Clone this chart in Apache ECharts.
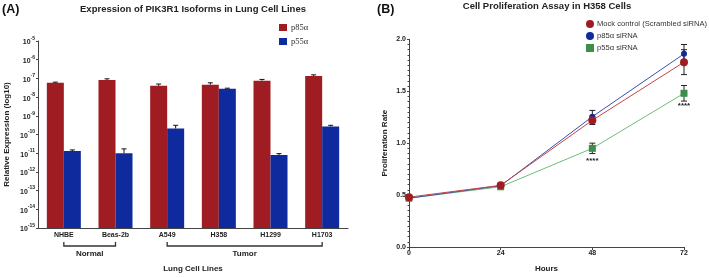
<!DOCTYPE html>
<html><head><meta charset="utf-8">
<script src="https://cdn.jsdelivr.net/npm/echarts@6/dist/echarts.min.js"></script>
<style>html,body{margin:0;padding:0;background:#fff}#c{width:709px;height:278px}</style>
</head><body><div id="c"></div>
<script>
// ---- Panel A data ----
const categories = ['NHBE', 'Beas-2b', 'A549', 'H358', 'H1299', 'H1703'];
const p85 = [5.8e-8, 8.3e-8, 4.0e-8, 4.6e-8, 7.6e-8, 1.35e-7];
const p85Upper = [6.3e-8, 9.5e-8, 5.0e-8, 5.8e-8, 8.8e-8, 1.55e-7];
const p55 = [1.3e-11, 1.0e-11, 2.1e-10, 2.8e-8, 7.9e-12, 2.7e-10];
const p55Upper = [1.5e-11, 1.7e-11, 3.1e-10, 3.0e-8, 9.5e-12, 3.1e-10];
const expMin = -15, expMax = -5;
const groupNames = ['Normal', 'Tumor'];
const groupFrom = [0, 2];
const groupTo = [1, 5];

// ---- Panel B data ----
const hours = [0, 24, 48, 72];
const mock = [0.48, 0.594, 1.22, 1.78];
const mockErr = [0.01, 0.01, 0.04, 0.12];
const p85si = [0.47, 0.59, 1.255, 1.86];
const p85siErr = [0.01, 0.01, 0.06, 0.09];
const p55si = [0.47, 0.58, 0.95, 1.48];
const p55siErr = [0.01, 0.01, 0.05, 0.075];
const sig = ['', '', '****', '****'];

const RED = '#9f1d22', BLUE = '#0f2a9c', GREEN = '#3b8f4a', GREEN_LINE = '#6dbb7a';
const FONT = 'Liberation Sans, Arial, sans-serif';
const lg = v => Math.log10(v) - expMin;

const chart = echarts.init(document.getElementById('c'), null, {renderer: 'canvas'});
const BW = 17;

function errA(offset) {
  return function (params, api) {
    const i = api.value(0);
    const top = api.coord([i, api.value(2)]);
    const base = api.coord([i, api.value(1)]);
    const x = top[0] + offset;
    return {type: 'group', children: [
      {type: 'line', shape: {x1: x, y1: base[1], x2: x, y2: top[1]}, style: {stroke: '#111', lineWidth: 1}},
      {type: 'line', shape: {x1: x - 2.5, y1: top[1], x2: x + 2.5, y2: top[1]}, style: {stroke: '#111', lineWidth: 1}}
    ]};
  };
}
function errB() {
  return function (params, api) {
    const x = api.value(0), y = api.value(1), e = api.value(2);
    const hi = api.coord([x, y + e]), lo = api.coord([x, y - e]);
    return {type: 'group', children: [
      {type: 'line', shape: {x1: hi[0], y1: hi[1], x2: lo[0], y2: lo[1]}, style: {stroke: '#222', lineWidth: 1}},
      {type: 'line', shape: {x1: hi[0] - 3, y1: hi[1], x2: hi[0] + 3, y2: hi[1]}, style: {stroke: '#222', lineWidth: 1}},
      {type: 'line', shape: {x1: lo[0] - 3, y1: lo[1], x2: lo[0] + 3, y2: lo[1]}, style: {stroke: '#222', lineWidth: 1}}
    ]};
  };
}

const option = {
  animation: false,
  textStyle: {fontFamily: FONT},
  title: [
    {text: '(A)', left: 2, top: 3, padding: 0, textStyle: {fontSize: 12.5, fontWeight: 'bold', color: '#111', fontFamily: FONT}},
    {text: 'Expression of PIK3R1 Isoforms in Lung Cell Lines', left: 193, top: 4, padding: 0, textAlign: 'center', textStyle: {fontSize: 9.5, fontWeight: 'bold', color: '#222', fontFamily: FONT}},
    {text: '(B)', left: 377, top: 3, padding: 0, textStyle: {fontSize: 12.5, fontWeight: 'bold', color: '#111', fontFamily: FONT}},
    {text: 'Cell Proliferation Assay in H358 Cells', left: 547, top: 1, padding: 0, textAlign: 'center', textStyle: {fontSize: 9.5, fontWeight: 'bold', color: '#222', fontFamily: FONT}}
  ],
  legend: [
    {data: ['p85α', 'p55α'], left: 279, top: 23, padding: 0, orient: 'vertical', itemWidth: 8, itemHeight: 7, itemGap: 5, icon: 'rect',
     textStyle: {fontSize: 8.5, fontFamily: 'Liberation Serif, serif', color: '#333', padding: [0, 0, 0, -1]}},
    {data: [{name: 'Mock control (Scrambled siRNA)', icon: 'circle'}, {name: 'p85α siRNA', icon: 'circle'}, {name: 'p55α siRNA', icon: 'rect'}],
     left: 586, top: 20, padding: 0, orient: 'vertical',
     itemWidth: 8, itemHeight: 8, itemGap: 4, textStyle: {fontSize: 7.6, color: '#333', padding: [0, 0, 0, -2]}}
  ],
  grid: [
    {left: 38, top: 41, width: 310, height: 189},
    {left: 409, top: 39.3, width: 275, height: 213}
  ],
  xAxis: [
    {gridIndex: 0, type: 'category', data: categories,
     axisLine: {lineStyle: {color: '#444', width: 1}}, axisTick: {show: false},
     axisLabel: {fontSize: 7, fontWeight: 'bold', color: '#222', margin: 4},
     name: 'Lung Cell Lines', nameLocation: 'middle', nameGap: 37,
     nameTextStyle: {fontSize: 8, fontWeight: 'bold', color: '#222'}},
    {gridIndex: 1, type: 'value', min: 0, max: 72, interval: 24,
     axisLine: {lineStyle: {color: '#444', width: 1}}, axisTick: {show: true, length: 3, lineStyle: {color: '#444'}},
     splitLine: {show: false},
     axisLabel: {fontSize: 7, fontWeight: 'bold', color: '#222', margin: 3},
     name: 'Hours', nameLocation: 'middle', nameGap: 18,
     nameTextStyle: {fontSize: 8, fontWeight: 'bold', color: '#222'}}
  ],
  yAxis: [
    {gridIndex: 0, type: 'value', min: 0, max: expMax - expMin, interval: 1,
     axisLine: {show: true, lineStyle: {color: '#444', width: 1}}, axisTick: {show: true, length: 2, lineStyle: {color: '#444'}},
     splitLine: {show: false},
     axisLabel: {margin: 3, color: '#222',
       formatter: v => '{b|10}{s|' + (v + expMin) + '}',
       rich: {b: {fontSize: 7, fontWeight: 'bold', color: '#222', lineHeight: 10, verticalAlign: 'bottom'},
              s: {fontSize: 5, fontWeight: 'bold', color: '#222', lineHeight: 10, verticalAlign: 'top'}}},
     name: 'Relative Expression (log10)', nameLocation: 'middle', nameGap: 27, nameRotate: 90,
     nameTextStyle: {fontSize: 8, fontWeight: 'bold', color: '#222'}},
    {gridIndex: 1, type: 'value', min: 0, max: 2, interval: 0.5,
     axisLine: {show: true, lineStyle: {color: '#444', width: 1}}, axisTick: {show: true, length: 2, lineStyle: {color: '#444'}},
     minorTick: {show: true, splitNumber: 10, length: 1.5, lineStyle: {color: '#444'}},
     splitLine: {show: false},
     axisLabel: {fontSize: 7, fontWeight: 'bold', color: '#222', margin: 3, formatter: v => v.toFixed(1)},
     name: 'Proliferation Rate', nameLocation: 'middle', nameGap: 20, nameRotate: 90,
     nameTextStyle: {fontSize: 8, fontWeight: 'bold', color: '#222'}}
  ],
  series: [
    {name: 'p85α', type: 'bar', xAxisIndex: 0, yAxisIndex: 0, barWidth: BW, barGap: '0%',
     itemStyle: {color: RED}, data: p85.map(lg)},
    {name: 'p55α', type: 'bar', xAxisIndex: 0, yAxisIndex: 0, barWidth: BW, barGap: '0%',
     itemStyle: {color: BLUE}, data: p55.map(lg)},
    {type: 'custom', xAxisIndex: 0, yAxisIndex: 0, renderItem: errA(-BW / 2), z: 3,
     data: p85.map((v, i) => [i, lg(v), lg(p85Upper[i])])},
    {type: 'custom', xAxisIndex: 0, yAxisIndex: 0, renderItem: errA(BW / 2), z: 3,
     data: p55.map((v, i) => [i, lg(v), lg(p55Upper[i])])},
    {type: 'custom', xAxisIndex: 0, yAxisIndex: 0, clip: false, silent: true,
     renderItem: function (params, api) {
       const a = api.coord([api.value(0), 0]), b = api.coord([api.value(1), 0]);
       const yb = a[1];
       return {type: 'group', children: [
         {type: 'polyline', shape: {points: [[a[0], yb + 14], [a[0], yb + 18], [b[0], yb + 18], [b[0], yb + 14]]},
          style: {stroke: '#333', lineWidth: 1.3, fill: null}},
         {type: 'text', style: {text: groupNames[params.dataIndex], x: (a[0] + b[0]) / 2, y: yb + 26, align: 'center', verticalAlign: 'middle',
          font: 'bold 8px ' + FONT, fill: '#222'}}
       ]};
     },
     data: groupFrom.map((f, i) => [f, groupTo[i]])},

    {name: 'p55α siRNA', type: 'line', xAxisIndex: 1, yAxisIndex: 1, symbol: 'rect', symbolSize: 7,
     itemStyle: {color: GREEN}, lineStyle: {color: GREEN_LINE, width: 1},
     label: {show: true, position: 'bottom', distance: 5, formatter: p => sig[p.dataIndex], fontSize: 8, fontWeight: 'bold', color: '#222'},
     data: hours.map((h, i) => [h, p55si[i]])},
    {name: 'p85α siRNA', type: 'line', xAxisIndex: 1, yAxisIndex: 1, symbol: 'circle', symbolSize: 6,
     itemStyle: {color: BLUE}, lineStyle: {color: '#3a4fb0', width: 1},
     data: hours.map((h, i) => [h, p85si[i]])},
    {name: 'Mock control (Scrambled siRNA)', type: 'line', xAxisIndex: 1, yAxisIndex: 1, symbol: 'circle', symbolSize: 8,
     itemStyle: {color: RED}, lineStyle: {color: '#c0454a', width: 1},
     data: hours.map((h, i) => [h, mock[i]])},
    {type: 'custom', xAxisIndex: 1, yAxisIndex: 1, renderItem: errB(), z: 1,
     data: hours.map((h, i) => [h, p55si[i], p55siErr[i]])},
    {type: 'custom', xAxisIndex: 1, yAxisIndex: 1, renderItem: errB(), z: 1,
     data: hours.map((h, i) => [h, p85si[i], p85siErr[i]])},
    {type: 'custom', xAxisIndex: 1, yAxisIndex: 1, renderItem: errB(), z: 1,
     data: hours.map((h, i) => [h, mock[i], mockErr[i]])}
  ]
};
chart.setOption(option);
</script></body></html>
